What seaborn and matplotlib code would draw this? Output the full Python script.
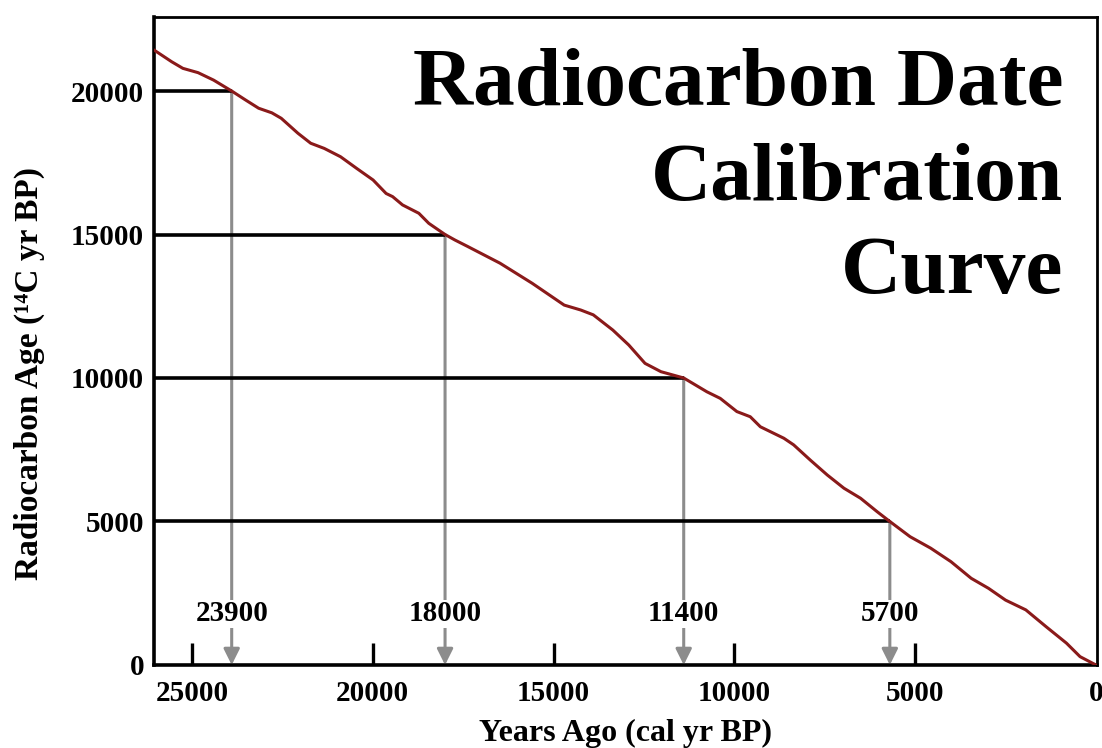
import matplotlib.pyplot as plt
import matplotlib.transforms as mtransforms
import seaborn as sns

# Calibration curve (cal yr BP vs 14C yr BP)
cal_years = [
    26050, 25560, 25250, 24830, 24400, 23900, 23520, 23155, 22790, 22530,
    22070, 21715, 21340, 20890, 20440, 19990, 19630, 19450, 19175, 18725,
    18450, 18000, 17730, 17370, 16480, 15590, 14705, 14250, 13900, 13360,
    12920, 12470, 12030, 11400, 10760, 10390, 9930, 9560, 9280, 8630,
    8360, 7900, 7430, 6970, 6510, 6050, 5700, 5140, 4570, 4010,
    3450, 2970, 2500, 1940, 1375, 815, 440, 0,
]
c14_ages = [
    21430, 21020, 20790, 20640, 20380, 20000, 19690, 19400, 19240, 19050,
    18530, 18180, 18000, 17710, 17300, 16900, 16430, 16320, 16030, 15740,
    15390, 15000, 14810, 14580, 14000, 13300, 12540, 12370, 12200, 11670,
    11150, 10510, 10220, 10000, 9520, 9290, 8830, 8650, 8300, 7900,
    7670, 7140, 6620, 6160, 5810, 5340, 5000, 4470, 4070, 3600,
    3020, 2670, 2260, 1920, 1330, 760, 290, 0,
]

# Example readings marked on the chart
mark_c14 = [20000, 15000, 10000, 5000]
mark_cal = [23900, 18000, 11400, 5700]

x_ticks = [25000, 20000, 15000, 10000, 5000, 0]
y_ticks = [0, 5000, 10000, 15000, 20000]

title_lines = ["Radiocarbon Date", "Calibration", "Curve"]

sns.set_style("white")
plt.rcParams["font.family"] = ["Liberation Serif", "DejaVu Serif"]
plt.rcParams["font.weight"] = "bold"
plt.rcParams["text.color"] = "black"
plt.rcParams["axes.labelcolor"] = "black"
plt.rcParams["xtick.color"] = "black"
plt.rcParams["ytick.color"] = "black"

fig = plt.figure(figsize=(11.02, 7.48), dpi=100)
ax = fig.add_axes([0.1397, 0.1110, 0.8558, 0.8663])

ax.set_xlim(26050, -30)
ax.set_ylim(0, 22580)

sns.lineplot(x=cal_years, y=c14_ages, color="#8a1a1a", lw=2.2, ax=ax, zorder=4)

# horizontal guide lines from the y axis to the curve, then arrows down
x_left = ax.get_xlim()[0]
for yc, xc in zip(mark_c14, mark_cal):
    ax.plot([x_left, xc], [yc, yc], color="black", lw=2.6, zorder=3,
            solid_capstyle="butt")
    ax.annotate(
        "", xy=(xc, 0), xytext=(xc, yc),
        arrowprops=dict(arrowstyle="-|>", color="#8c8c8c", lw=2.2,
                        mutation_scale=24, shrinkA=0, shrinkB=0),
        zorder=2,
    )

trans = mtransforms.blended_transform_factory(ax.transData, ax.transAxes)
for xc in mark_cal:
    ax.text(xc, 0.079, str(xc), transform=trans, ha="center", va="center",
            fontsize=21, fontweight="bold", zorder=5,
            bbox=dict(facecolor="white", edgecolor="none", pad=0.5))

ax.set_xticks(x_ticks)
ax.set_xticklabels([str(v) for v in x_ticks])
ax.set_yticks(y_ticks)
ax.set_yticklabels([str(v) for v in y_ticks])
ax.tick_params(axis="x", bottom=True, direction="in", length=16, width=2.4,
               color="black", labelsize=21, pad=11)
ax.tick_params(axis="y", left=True, length=0, labelsize=21, pad=7)
for lab in ax.get_xticklabels() + ax.get_yticklabels():
    lab.set_fontweight("bold")
# the tick at 0 sits on the right spine; hide its mark only
ax.xaxis.get_major_ticks()[-1].tick1line.set_visible(False)

ax.set_xlabel("Years Ago (cal yr BP)", fontsize=23, fontweight="bold")
ax.set_ylabel("Radiocarbon Age (\u00b9\u2074C yr BP)", fontsize=24,
              fontweight="bold")
ax.xaxis.set_label_coords(0.4995, -0.084)
ax.yaxis.set_label_coords(-0.116, 0.45)

for side, sp in ax.spines.items():
    sp.set_visible(True)
    sp.set_color("black")
    sp.set_linewidth(2.6 if side in ("left", "bottom") else 2.0)

for line, yf in zip(title_lines, [0.864, 0.718, 0.574]):
    ax.text(0.964, yf, line, transform=ax.transAxes, ha="right",
            va="baseline", fontsize=60, fontweight="bold", zorder=6)

fig.savefig("out.png", dpi=100)
